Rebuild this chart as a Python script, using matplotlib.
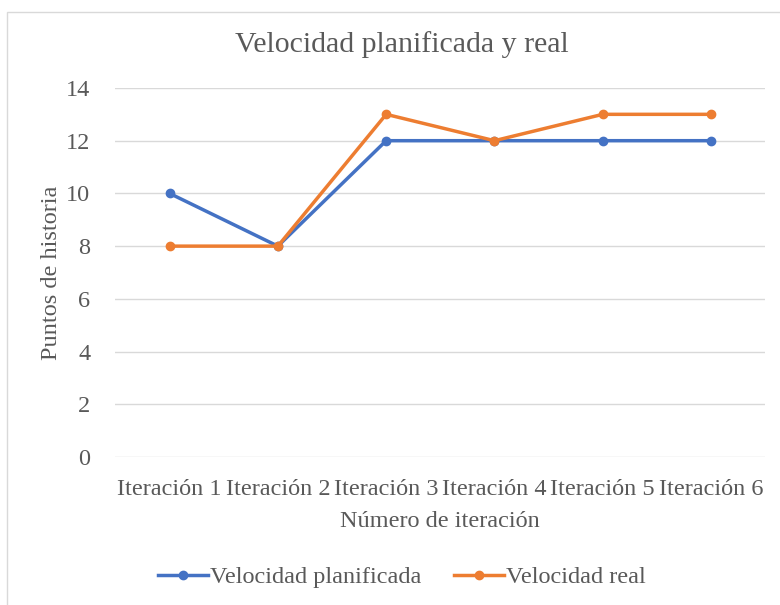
import matplotlib.pyplot as plt
from matplotlib.patches import Rectangle

plt.rcParams['font.family'] = ['Liberation Serif', 'DejaVu Serif']

iteraciones = ['Iteración 1', 'Iteración 2', 'Iteración 3',
               'Iteración 4', 'Iteración 5', 'Iteración 6']
planificada = [10, 8, 12, 12, 12, 12]
real = [8, 8, 13, 12, 13, 13]

text_color = '#595959'
fs = 17.5

fig = plt.figure(figsize=(7.8, 6.05), dpi=100)
ax = fig.add_axes([0.148, 0.2446, 0.833, 0.61])

x = range(len(iteraciones))
ax.plot(x, planificada, color='#4472C4', lw=2.5, marker='o', ms=6,
        label='Velocidad planificada', zorder=3)
ax.plot(x, real, color='#ED7D31', lw=2.5, marker='o', ms=6,
        label='Velocidad real', zorder=3)

ax.set_xlim(-0.5, len(iteraciones) - 0.5)
ax.set_ylim(0, 14)
ax.set_yticks(range(0, 15, 2))
ax.set_xticks(list(x))
ax.set_xticklabels(iteraciones)
ax.yaxis.grid(True, color='#d9d9d9', lw=1)
ax.set_axisbelow(True)
for s in ax.spines.values():
    s.set_visible(False)
ax.tick_params(length=0, labelsize=fs, colors=text_color, pad=16)
ax.tick_params(axis='y', pad=18)

fig.text(402 / 780, 1 - 45 / 605, 'Velocidad planificada y real', fontsize=21.5,
         color=text_color, ha='center', va='center')
ax.set_xlabel('Número de iteración', fontsize=fs, color=text_color, labelpad=8)
ax.set_ylabel('Puntos de historia', fontsize=fs, color=text_color)
ax.yaxis.set_label_coords(-0.082, 0.5)

fig.legend(loc='center', bbox_to_anchor=(0.515, 0.046), ncol=2, frameon=False,
           fontsize=fs, labelcolor=text_color, handlelength=2.05, columnspacing=1.35,
           handletextpad=0.08)

fig.patches.append(Rectangle((7 / 780, -0.01), 1.1, 1 - 12 / 605 + 0.01,
                             transform=fig.transFigure, fill=False,
                             edgecolor='#d9d9d9', lw=1))

fig.savefig('out.png', dpi=100)
